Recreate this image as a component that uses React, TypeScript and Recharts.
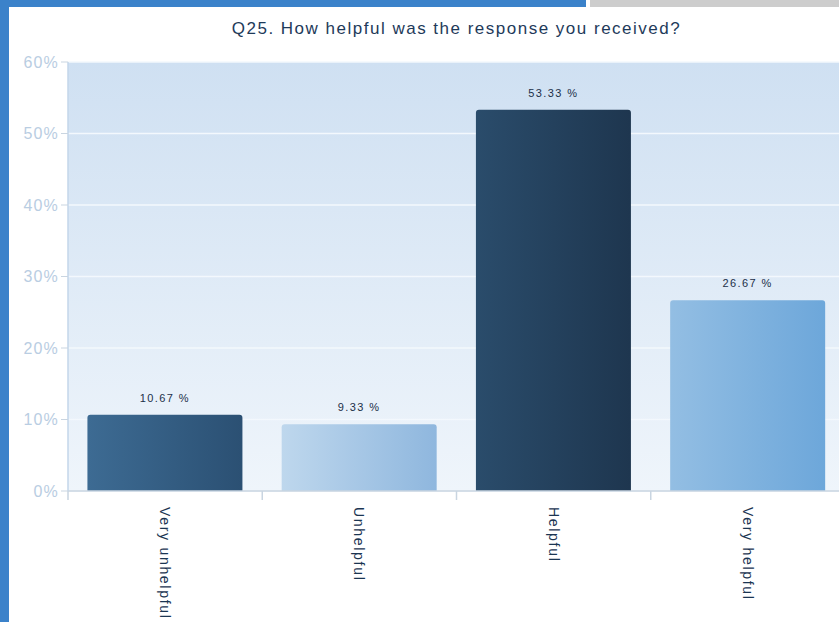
import React from 'react';
import { BarChart, Bar, XAxis, YAxis, CartesianGrid, Cell, LabelList } from 'recharts';

const categories = ['Very unhelpful', 'Unhelpful', 'Helpful', 'Very helpful'];
const percents = [10.67, 9.33, 53.33, 26.67];
const yTicks = [0, 10, 20, 30, 40, 50, 60];

// left / right colours of each bar's horizontal gradient
const barColors: [string, string][] = [
  ['#3d6b93', '#2b5073'],
  ['#bed7ed', '#8fb7de'],
  ['#2a4c6b', '#1e364f'],
  ['#93bee3', '#6da7da'],
];

const data = categories.map((name, i) => ({ name, value: percents[i] }));

const FONT = 'Arial, "Liberation Sans", sans-serif';

const CategoryTick = (props: any) => {
  const { x, y, payload } = props;
  const half = payload && payload.offset ? payload.offset : 97;
  return (
    <g>
      <line x1={x - half} y1={y - 8} x2={x - half} y2={y + 1} stroke="#c9d5e1" strokeWidth={1.5} />
      <text
        x={x}
        y={y + 8}
        transform={`rotate(90 ${x} ${y + 8})`}
        dy="0.35em"
        textAnchor="start"
        fill="#1b3552"
        fontSize={14}
        letterSpacing={1.7}
        fontFamily={FONT}
      >
        {payload.value}
      </text>
    </g>
  );
};

export default function App() {
  return (
    <div
      style={{
        position: 'fixed',
        left: 0,
        top: 0,
        width: 839,
        height: 622,
        background: '#3b82ca',
        overflow: 'hidden',
      }}
    >
      <div style={{ position: 'absolute', left: 590, top: 0, width: 249, height: 7, background: '#cdcdcd' }} />
      <div style={{ position: 'absolute', left: 586, top: 0, width: 4, height: 7, background: '#ffffff' }} />
      <div
        style={{
          position: 'absolute',
          left: 9,
          top: 7,
          width: 830,
          height: 615,
          background: '#ffffff',
          overflow: 'hidden',
        }}
      >
        <div
          style={{
            position: 'absolute',
            left: 59,
            width: 777,
            top: 12,
            textAlign: 'center',
            fontFamily: FONT,
            fontSize: 17,
            letterSpacing: 1.5,
            color: '#1e3a5a',
            whiteSpace: 'nowrap',
          }}
        >
          Q25. How helpful was the response you received?
        </div>
        <BarChart
          width={837}
          height={615}
          data={data}
          margin={{ top: 55, right: 1, bottom: 0, left: 0 }}
          barCategoryGap="10%"
        >
          <defs>
            <linearGradient id="plotBg" x1="0" y1="0" x2="0" y2="1">
              <stop offset="0%" stopColor="#cfe0f2" />
              <stop offset="100%" stopColor="#eff5fb" />
            </linearGradient>
            {barColors.map((c, i) => (
              <linearGradient key={i} id={`bar${i}`} x1="0" y1="0" x2="1" y2="0">
                <stop offset="0%" stopColor={c[0]} />
                <stop offset="100%" stopColor={c[1]} />
              </linearGradient>
            ))}
          </defs>
          <CartesianGrid
            vertical={false}
            stroke="#f3f8fd"
            strokeWidth={1.5}
            fill="url(#plotBg)"
            fillOpacity={1}
          />
          <XAxis
            dataKey="name"
            height={131}
            interval={0}
            axisLine={{ stroke: '#c9d5e1', strokeWidth: 1.5 }}
            tickLine={false}
            tick={<CategoryTick />}
          />
          <YAxis
            width={59}
            domain={[0, 60]}
            ticks={yTicks}
            interval={0}
            tickFormatter={(v: number) => `${v}%`}
            tick={{ fill: '#b9cde2', fontSize: 16, fontFamily: FONT, letterSpacing: 1.2 }}
            tickLine={{ stroke: '#c9d5e1' }}
            tickSize={7}
            tickMargin={2}
            axisLine={{ stroke: '#c3d6ea', strokeWidth: 1.5 }}
          />
          <Bar dataKey="value" radius={[3, 3, 0, 0]} isAnimationActive={false}>
            {data.map((_, i) => (
              <Cell key={i} fill={`url(#bar${i})`} />
            ))}
            <LabelList
              dataKey="value"
              position="top"
              offset={13}
              formatter={(v: any) => `${Number(v).toFixed(2)} %`}
              fill="#1b2f48"
              fontSize={11}
              letterSpacing={1.4}
              fontFamily={FONT}
            />
          </Bar>
        </BarChart>
      </div>
    </div>
  );
}
